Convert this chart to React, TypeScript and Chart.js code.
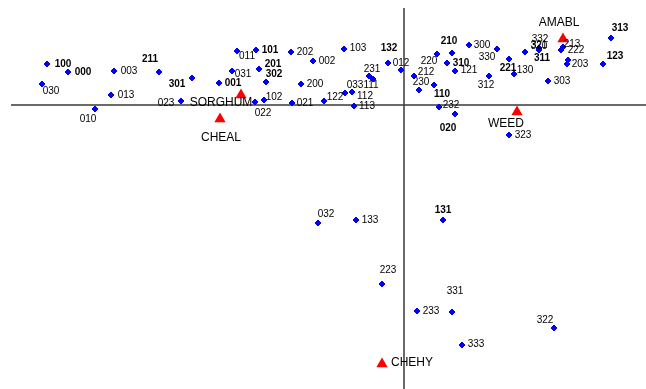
import React, { useEffect, useRef } from "react";
import { Chart, registerables } from "chart.js";

Chart.register(...registerables);

// Site scores (axis 1, axis 2)
const siteNames = [
  "100", "000", "003", "211", "030", "013", "010", "301", "023", "001",
  "011", "101", "202", "103", "132", "012", "002", "201", "031", "302",
  "200", "231", "111", "033", "112", "113", "122", "021", "102", "022",
  "210", "300", "220", "330", "310", "121", "212", "230", "110", "232",
  "020", "312", "221", "130", "311", "332", "320", "321", "213", "222",
  "203", "120", "303", "313", "123", "323", "032", "133", "131", "223",
  "331", "233", "322", "333",
];
const siteX = [
  -3.57, -3.36, -2.9, -2.45, -3.62, -2.93, -3.09, -2.12, -2.23, -1.85,
  -1.67, -1.48, -1.13, -0.6, -0.16, -0.03, -0.91, -1.45, -1.72, -1.38,
  -1.03, -0.35, -0.31, -0.59, -0.52, -0.5, -0.8, -1.12, -1.4, -1.49,
  0.48, 0.65, 0.33, 0.93, 0.43, 0.51, 0.1, 0.15, 0.3, 0.35,
  0.51, 0.85, 1.05, 1.1, 1.21, 1.35, 1.35, 1.35, 1.59, 1.57,
  1.64, 1.63, 1.44, 2.07, 1.99, 1.05, -0.86, -0.48, 0.39, -0.22,
  0.48, 0.13, 1.5, 0.58,
];
const siteY = [
  0.41, 0.33, 0.34, 0.33, 0.21, 0.1, -0.04, 0.27, 0.04, 0.22,
  0.54, 0.55, 0.53, 0.56, 0.42, 0.35, 0.44, 0.36, 0.34, 0.23,
  0.21, 0.29, 0.26, 0.12, 0.13, -0.01, 0.04, 0.02, 0.05, 0.03,
  0.52, 0.6, 0.51, 0.56, 0.42, 0.34, 0.29, 0.15, 0.2, -0.02,
  -0.09, 0.29, 0.46, 0.31, 0.53, 0.57, 0.55, 0.56, 0.58, 0.55,
  0.45, 0.41, 0.24, 0.67, 0.41, -0.3, -1.18, -1.15, -1.15, -1.79,
  -2.07, -2.06, -2.23, -2.4,
];

// Species scores
const speciesNames = ["SORGHUM", "CHEAL", "AMABL", "WEED", "CHEHY"];
const speciesX = [-1.63, -1.84, 1.59, 1.13, -0.22];
const speciesY = [0.1, -0.14, 0.66, -0.07, -2.59];

// Label placement (pixel offsets of label centre from its point) — styling only
const siteLabelDx = [
  16, 15, 15, -9, 9, 15, -7, -15, -15, 14,
  10, 14, 14, 14, 1, 0, 14, 14, 11, 8,
  14, 3, -2, 10, 13, 13, 11, 13, 10, 8,
  -3, 13, -8, -10, 14, 14, 12, 2, 8, 12,
  -7, -3, -1, 11, 17, 1, 0, 0, 9, 15,
  12, NaN, 14, 9, 12, 14, 8, 14, 0, 6,
  3, 14, -9, 14,
];
const siteLabelDy = [
  0, 0, 0, -13, 7, 0, 10, 6, 2, 0,
  5, 0, 0, -1, -15, -7, 0, -5, 3, -8,
  0, -7, 6, -8, 4, 0, -4, 0, -3, 11,
  -12, 0, 7, 8, 0, -1, -4, -8, 9, -2,
  14, 9, 9, -4, 6, -9, -4, -4, -3, 0,
  4, NaN, 0, -10, -8, 0, -9, 0, -10, -14,
  -21, 0, -8, -1,
];
const boldLabels = [
  "100", "000", "211", "301", "001", "101", "201", "302", "210", "310",
  "110", "020", "311", "313", "123", "221", "132", "131",
];
const speciesLabelDx = [-20, 1, -4, -11, 30];
const speciesLabelDy = [8, 19, -16, 12, -1];

// Axis line extents (data units)
const xAxisStart = -3.93;
const yAxisTop = 0.97;

const axesPlugin = {
  id: "originAxes",
  beforeDatasetsDraw(chart: any) {
    const { ctx, scales, chartArea } = chart;
    const xs = scales.x;
    const ys = scales.y;
    const x0 = xs.getPixelForValue(0);
    const y0 = ys.getPixelForValue(0);
    ctx.save();
    ctx.strokeStyle = "#3a3a3a";
    ctx.lineWidth = 1.5;
    ctx.beginPath();
    ctx.moveTo(xs.getPixelForValue(xAxisStart), y0);
    ctx.lineTo(chartArea.right, y0);
    ctx.moveTo(x0, ys.getPixelForValue(yAxisTop));
    ctx.lineTo(x0, chartArea.bottom);
    ctx.stroke();
    ctx.restore();
  },
};

const labelsPlugin = {
  id: "pointLabels",
  afterDatasetsDraw(chart: any) {
    const ctx = chart.ctx;
    ctx.save();
    ctx.textAlign = "center";
    ctx.textBaseline = "middle";
    ctx.fillStyle = "#000";
    const siteMeta = chart.getDatasetMeta(0).data;
    siteNames.forEach((name, i) => {
      const dx = siteLabelDx[i];
      const dy = siteLabelDy[i];
      if (isNaN(dx) || isNaN(dy)) return;
      const el = siteMeta[i];
      const bold = boldLabels.includes(name);
      ctx.font = `${bold ? "bold " : ""}10px "Liberation Sans", Arial, sans-serif`;
      ctx.fillText(name, el.x + dx, el.y + dy);
    });
    const spMeta = chart.getDatasetMeta(1).data;
    ctx.font = `12px "Liberation Sans", Arial, sans-serif`;
    speciesNames.forEach((name, i) => {
      const el = spMeta[i];
      ctx.fillText(name, el.x + speciesLabelDx[i], el.y + speciesLabelDy[i]);
    });
    ctx.restore();
  },
};

export default function App() {
  const ref = useRef<HTMLCanvasElement | null>(null);
  useEffect(() => {
    if (!ref.current) return;
    const chart = new Chart(ref.current, {
      type: "scatter",
      data: {
        datasets: [
          {
            label: "Sites",
            data: siteX.map((x, i) => ({ x, y: siteY[i] })),
            pointStyle: "rectRot",
            pointRadius: 3,
            pointBorderWidth: 1,
            backgroundColor: "#0000ff",
            borderColor: "#0000ff",
          },
          {
            label: "Species",
            data: speciesX.map((x, i) => ({ x, y: speciesY[i] })),
            pointStyle: "triangle",
            pointRadius: 6.5,
            pointBorderWidth: 0,
            backgroundColor: "#ff0000",
            borderColor: "#ff0000",
          },
        ],
      },
      options: {
        animation: false,
        responsive: false,
        maintainAspectRatio: false,
        devicePixelRatio: 1,
        layout: { padding: 0, autoPadding: false },
        scales: {
          x: { type: "linear", min: -4.04, max: 2.42, display: false },
          y: { type: "linear", min: -2.84, max: 1.05, display: false },
        },
        plugins: {
          legend: { display: false },
          tooltip: { enabled: false },
        },
        events: [],
      },
      plugins: [axesPlugin, labelsPlugin],
    });
    return () => chart.destroy();
  }, []);
  return (
    <div style={{ position: "absolute", left: 0, top: 0, width: 646, height: 389, background: "#fff" }}>
      <canvas ref={ref} width={646} height={389} />
    </div>
  );
}
